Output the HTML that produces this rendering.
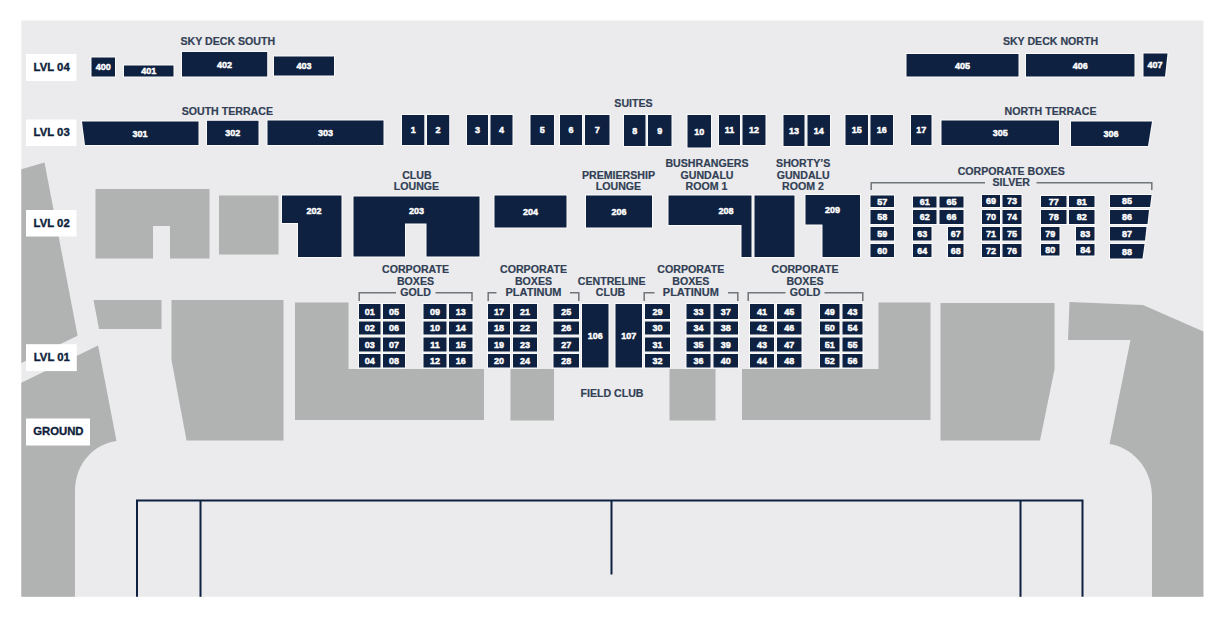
<!DOCTYPE html>
<html><head><meta charset="utf-8"><style>
html,body{margin:0;padding:0;background:#fff;}
svg{display:block;}
.nv{stroke:#fbfbfc;stroke-width:2px;paint-order:stroke;stroke-linejoin:miter;}
text{font-family:"Liberation Sans",sans-serif;font-weight:bold;}
.n{fill:#fff;text-anchor:middle;stroke:#fff;stroke-width:0.45px;}
.l{fill:#323f55;text-anchor:middle;stroke:#323f55;stroke-width:0.2px;}
.lv{fill:#0e1f3d;text-anchor:middle;font-size:11px;stroke:#0e1f3d;stroke-width:0.35px;}
</style></head><body>
<svg width="1224" height="623" viewBox="0 0 1224 623">
<rect x="0" y="0" width="1224" height="623" fill="#fff"/>
<rect x="21.3" y="20.5" width="1182.1" height="576.3" fill="#ebebed"/>
<polygon points="21.3,169.2 44.5,162.6 77.6,335.7 21.3,363" fill="#b1b2b2"/>
<path d="M21.3,382.7 L98.1,345.6 L116.5,441 C95,444 75,462 75,492 L75,596.8 L21.3,596.8 Z" fill="#b1b2b2"/>
<polygon points="95.5,189 209.5,189 209.5,258.5 170,258.5 170,226 153,226 153,258.5 95.5,258.5" fill="#b1b2b2"/>
<rect x="219" y="195.5" width="59.5" height="59.0" fill="#b1b2b2"/>
<polygon points="93.5,300 161.5,300 161.5,329 99,329" fill="#b1b2b2"/>
<polygon points="171.5,300 283.5,300 283.5,440.5 186.5,440.5 171.5,360" fill="#b1b2b2"/>
<polygon points="295,302.5 348.5,302.5 348.5,369 484,369 484,420 295,420" fill="#b1b2b2"/>
<rect x="510.5" y="369" width="43.5" height="51.5" fill="#b1b2b2"/>
<rect x="669.5" y="369" width="46.0" height="51.5" fill="#b1b2b2"/>
<polygon points="742,369 878.5,369 878.5,302.5 930.5,302.5 930.5,420 742,420" fill="#b1b2b2"/>
<polygon points="940.5,303 1054.5,303 1054.5,369.5 1040,440.5 940.5,440.5" fill="#b1b2b2"/>
<path d="M1069.5,302 L1143,305 L1203.4,331.5 L1203.4,596.8 L1152,596.8 L1152,496 C1152,466 1130,447 1109.5,444 L1130.5,340 L1068,340 Z" fill="#b1b2b2"/>
<g stroke="#0f2140" stroke-width="2" fill="none">
<path d="M137,596.8 L137,500.5 L1082.5,500.5 L1082.5,596.8"/>
<path d="M200.5,500.5 L200.5,596.8"/>
<path d="M1020.5,500.5 L1020.5,596.8"/>
<path d="M611.5,500.5 L611.5,574.5"/>
</g>
<rect x="26" y="54" width="50.5" height="27" fill="#fff"/>
<text transform="translate(51.65,70.8) scale(1.03,1)" class="lv">LVL 04</text>
<rect x="26" y="119.5" width="50.5" height="26.5" fill="#fff"/>
<text transform="translate(51.65,136.05) scale(1.03,1)" class="lv">LVL 03</text>
<rect x="26" y="210" width="50.5" height="26.5" fill="#fff"/>
<text transform="translate(51.65,226.55) scale(1.03,1)" class="lv">LVL 02</text>
<rect x="26" y="344.2" width="50.8" height="26.9" fill="#fff"/>
<text transform="translate(51.8,360.95) scale(1.03,1)" class="lv">LVL 01</text>
<rect x="26" y="418.5" width="64" height="27.0" fill="#fff"/>
<text transform="translate(58.4,435.3) scale(1.03,1)" class="lv">GROUND</text>
<rect x="91.5" y="57.5" width="23.5" height="19.0" fill="#0f2140" class="nv"/>
<text transform="translate(103.25,70.34) scale(0.93,1)" class="n" style="font-size:9.7px">400</text>
<rect x="124" y="65.5" width="49.5" height="11.0" fill="#0f2140" class="nv"/>
<text transform="translate(148.75,74.34) scale(0.93,1)" class="n" style="font-size:9.7px">401</text>
<rect x="182" y="52" width="85.2" height="24.5" fill="#0f2140" class="nv"/>
<text transform="translate(224.6,67.59) scale(0.93,1)" class="n" style="font-size:9.7px">402</text>
<rect x="274" y="56.5" width="60" height="19.0" fill="#0f2140" class="nv"/>
<text transform="translate(304.0,69.34) scale(0.93,1)" class="n" style="font-size:9.7px">403</text>
<rect x="906.5" y="54" width="112.0" height="22.5" fill="#0f2140" class="nv"/>
<text transform="translate(962.5,68.59) scale(0.93,1)" class="n" style="font-size:9.7px">405</text>
<rect x="1026" y="54" width="108.5" height="22.5" fill="#0f2140" class="nv"/>
<text transform="translate(1080.25,68.59) scale(0.93,1)" class="n" style="font-size:9.7px">406</text>
<polygon points="1143.5,53.5 1167.5,53.5 1165,76.5 1143.5,76.5" fill="#0f2140" class="nv"/>
<text transform="translate(1155,68.34) scale(0.93,1)" class="n" style="font-size:9.7px">407</text>
<polygon points="82,121.5 198.5,121.5 198.5,145 85,145" fill="#0f2140" class="nv"/>
<text transform="translate(140,136.54) scale(0.93,1)" class="n" style="font-size:9.7px">301</text>
<rect x="207" y="120.8" width="51.5" height="24.2" fill="#0f2140" class="nv"/>
<text transform="translate(232.75,136.24) scale(0.93,1)" class="n" style="font-size:9.7px">302</text>
<rect x="267.5" y="120.5" width="116.0" height="24.5" fill="#0f2140" class="nv"/>
<text transform="translate(325.5,136.09) scale(0.93,1)" class="n" style="font-size:9.7px">303</text>
<rect x="402" y="115" width="22.3" height="30" fill="#0f2140" class="nv"/>
<text transform="translate(413.15,133.34) scale(0.93,1)" class="n" style="font-size:9.7px">1</text>
<rect x="427" y="115" width="22.2" height="30" fill="#0f2140" class="nv"/>
<text transform="translate(438.1,133.34) scale(0.93,1)" class="n" style="font-size:9.7px">2</text>
<rect x="467" y="115" width="21" height="30" fill="#0f2140" class="nv"/>
<text transform="translate(477.5,133.34) scale(0.93,1)" class="n" style="font-size:9.7px">3</text>
<rect x="490.5" y="115" width="22.0" height="30" fill="#0f2140" class="nv"/>
<text transform="translate(501.5,133.34) scale(0.93,1)" class="n" style="font-size:9.7px">4</text>
<rect x="530.5" y="115" width="23.5" height="30" fill="#0f2140" class="nv"/>
<text transform="translate(542.25,133.34) scale(0.93,1)" class="n" style="font-size:9.7px">5</text>
<rect x="560" y="115" width="22" height="30" fill="#0f2140" class="nv"/>
<text transform="translate(571.0,133.34) scale(0.93,1)" class="n" style="font-size:9.7px">6</text>
<rect x="585" y="115" width="24.5" height="30" fill="#0f2140" class="nv"/>
<text transform="translate(597.25,133.34) scale(0.93,1)" class="n" style="font-size:9.7px">7</text>
<rect x="624" y="115" width="21.5" height="31" fill="#0f2140" class="nv"/>
<text transform="translate(634.75,133.84) scale(0.93,1)" class="n" style="font-size:9.7px">8</text>
<rect x="648" y="115" width="23.5" height="31" fill="#0f2140" class="nv"/>
<text transform="translate(659.75,133.84) scale(0.93,1)" class="n" style="font-size:9.7px">9</text>
<rect x="687.5" y="115" width="23.5" height="32.5" fill="#0f2140" class="nv"/>
<text transform="translate(699.25,134.59) scale(0.93,1)" class="n" style="font-size:9.7px">10</text>
<rect x="719" y="115" width="21" height="30" fill="#0f2140" class="nv"/>
<text transform="translate(729.5,133.34) scale(0.93,1)" class="n" style="font-size:9.7px">11</text>
<rect x="742.5" y="115" width="23.0" height="30" fill="#0f2140" class="nv"/>
<text transform="translate(754.0,133.34) scale(0.93,1)" class="n" style="font-size:9.7px">12</text>
<rect x="783.5" y="115" width="21.0" height="31" fill="#0f2140" class="nv"/>
<text transform="translate(794.0,133.84) scale(0.93,1)" class="n" style="font-size:9.7px">13</text>
<rect x="807.5" y="115" width="22.5" height="31" fill="#0f2140" class="nv"/>
<text transform="translate(818.75,133.84) scale(0.93,1)" class="n" style="font-size:9.7px">14</text>
<rect x="845.5" y="115" width="22.5" height="30" fill="#0f2140" class="nv"/>
<text transform="translate(856.75,133.34) scale(0.93,1)" class="n" style="font-size:9.7px">15</text>
<rect x="870.5" y="115" width="22.5" height="30" fill="#0f2140" class="nv"/>
<text transform="translate(881.75,133.34) scale(0.93,1)" class="n" style="font-size:9.7px">16</text>
<rect x="911" y="115" width="20.5" height="30" fill="#0f2140" class="nv"/>
<text transform="translate(921.25,133.34) scale(0.93,1)" class="n" style="font-size:9.7px">17</text>
<rect x="941.5" y="120.5" width="117.5" height="24.5" fill="#0f2140" class="nv"/>
<text transform="translate(1000.25,136.09) scale(0.93,1)" class="n" style="font-size:9.7px">305</text>
<polygon points="1071,121.5 1152,121.5 1148,146 1071,146" fill="#0f2140" class="nv"/>
<text transform="translate(1111,137.04) scale(0.93,1)" class="n" style="font-size:9.7px">306</text>
<polygon points="282,195.5 341.5,195.5 341.5,257 298,257 298,223 282,223" fill="#0f2140" class="nv"/>
<text transform="translate(314,214.34) scale(0.93,1)" class="n" style="font-size:9.7px">202</text>
<polygon points="353.5,196.5 479.5,196.5 479.5,256.5 426.5,256.5 426.5,223.5 405,223.5 405,256.5 353.5,256.5" fill="#0f2140" class="nv"/>
<text transform="translate(416.5,214.34) scale(0.93,1)" class="n" style="font-size:9.7px">203</text>
<rect x="494.5" y="195.5" width="72.0" height="32.0" fill="#0f2140" class="nv"/>
<text transform="translate(530.5,214.84) scale(0.93,1)" class="n" style="font-size:9.7px">204</text>
<rect x="586" y="195.5" width="66" height="32.0" fill="#0f2140" class="nv"/>
<text transform="translate(619.0,214.84) scale(0.93,1)" class="n" style="font-size:9.7px">206</text>
<polygon points="668.5,195.5 751.5,195.5 751.5,257 741.5,257 741.5,225 668.5,225" fill="#0f2140" class="nv"/>
<text transform="translate(726,214.34) scale(0.93,1)" class="n" style="font-size:9.7px">208</text>
<rect x="754.5" y="195.5" width="40.0" height="61.5" fill="#0f2140" class="nv"/>
<polygon points="805.5,195 860,195 860,257 822.5,257 822.5,224.5 805.5,224.5" fill="#0f2140" class="nv"/>
<text transform="translate(832.5,213.34) scale(0.93,1)" class="n" style="font-size:9.7px">209</text>
<rect x="870.5" y="195.5" width="23.5" height="11.5" fill="#0f2140" class="nv"/>
<text transform="translate(882.25,204.59) scale(0.93,1)" class="n" style="font-size:9.7px">57</text>
<rect x="870.5" y="210" width="23.5" height="14" fill="#0f2140" class="nv"/>
<text transform="translate(882.25,220.34) scale(0.93,1)" class="n" style="font-size:9.7px">58</text>
<rect x="870.5" y="227" width="23.5" height="13.5" fill="#0f2140" class="nv"/>
<text transform="translate(882.25,237.09) scale(0.93,1)" class="n" style="font-size:9.7px">59</text>
<rect x="870.5" y="244" width="23.5" height="13" fill="#0f2140" class="nv"/>
<text transform="translate(882.25,253.84) scale(0.93,1)" class="n" style="font-size:9.7px">60</text>
<rect x="913" y="196.5" width="23.5" height="11.0" fill="#0f2140" class="nv"/>
<text transform="translate(924.75,205.34) scale(0.93,1)" class="n" style="font-size:9.7px">61</text>
<rect x="939.5" y="196.5" width="24.0" height="11.0" fill="#0f2140" class="nv"/>
<text transform="translate(951.5,205.34) scale(0.93,1)" class="n" style="font-size:9.7px">65</text>
<rect x="913" y="210" width="23.5" height="14" fill="#0f2140" class="nv"/>
<text transform="translate(924.75,220.34) scale(0.93,1)" class="n" style="font-size:9.7px">62</text>
<rect x="939.5" y="210" width="24.0" height="14" fill="#0f2140" class="nv"/>
<text transform="translate(951.5,220.34) scale(0.93,1)" class="n" style="font-size:9.7px">66</text>
<rect x="913" y="227" width="18.5" height="13.5" fill="#0f2140" class="nv"/>
<text transform="translate(922.25,237.09) scale(0.93,1)" class="n" style="font-size:9.7px">63</text>
<rect x="948" y="227" width="15.5" height="13.5" fill="#0f2140" class="nv"/>
<text transform="translate(955.75,237.09) scale(0.93,1)" class="n" style="font-size:9.7px">67</text>
<rect x="913" y="244" width="18.5" height="13" fill="#0f2140" class="nv"/>
<text transform="translate(922.25,253.84) scale(0.93,1)" class="n" style="font-size:9.7px">64</text>
<rect x="948" y="244" width="15.5" height="13" fill="#0f2140" class="nv"/>
<text transform="translate(955.75,253.84) scale(0.93,1)" class="n" style="font-size:9.7px">68</text>
<rect x="982" y="195" width="18" height="12" fill="#0f2140" class="nv"/>
<text transform="translate(991.0,204.34) scale(0.93,1)" class="n" style="font-size:9.7px">69</text>
<rect x="1002.5" y="195" width="19.0" height="12" fill="#0f2140" class="nv"/>
<text transform="translate(1012.0,204.34) scale(0.93,1)" class="n" style="font-size:9.7px">73</text>
<rect x="982" y="210" width="18" height="14" fill="#0f2140" class="nv"/>
<text transform="translate(991.0,220.34) scale(0.93,1)" class="n" style="font-size:9.7px">70</text>
<rect x="1002.5" y="210" width="19.0" height="14" fill="#0f2140" class="nv"/>
<text transform="translate(1012.0,220.34) scale(0.93,1)" class="n" style="font-size:9.7px">74</text>
<rect x="982" y="227" width="18" height="13.5" fill="#0f2140" class="nv"/>
<text transform="translate(991.0,237.09) scale(0.93,1)" class="n" style="font-size:9.7px">71</text>
<rect x="1002.5" y="227" width="19.0" height="13.5" fill="#0f2140" class="nv"/>
<text transform="translate(1012.0,237.09) scale(0.93,1)" class="n" style="font-size:9.7px">75</text>
<rect x="982" y="244" width="18" height="13" fill="#0f2140" class="nv"/>
<text transform="translate(991.0,253.84) scale(0.93,1)" class="n" style="font-size:9.7px">72</text>
<rect x="1002.5" y="244" width="19.0" height="13" fill="#0f2140" class="nv"/>
<text transform="translate(1012.0,253.84) scale(0.93,1)" class="n" style="font-size:9.7px">76</text>
<rect x="1041" y="196" width="25.5" height="11" fill="#0f2140" class="nv"/>
<text transform="translate(1053.75,204.84) scale(0.93,1)" class="n" style="font-size:9.7px">77</text>
<rect x="1069" y="196" width="25.5" height="11" fill="#0f2140" class="nv"/>
<text transform="translate(1081.75,204.84) scale(0.93,1)" class="n" style="font-size:9.7px">81</text>
<rect x="1041" y="210" width="25.5" height="14" fill="#0f2140" class="nv"/>
<text transform="translate(1053.75,220.34) scale(0.93,1)" class="n" style="font-size:9.7px">78</text>
<rect x="1069" y="210" width="25.5" height="14" fill="#0f2140" class="nv"/>
<text transform="translate(1081.75,220.34) scale(0.93,1)" class="n" style="font-size:9.7px">82</text>
<rect x="1041" y="227" width="18.5" height="13.5" fill="#0f2140" class="nv"/>
<text transform="translate(1050.25,237.09) scale(0.93,1)" class="n" style="font-size:9.7px">79</text>
<rect x="1076" y="227" width="18.5" height="13.5" fill="#0f2140" class="nv"/>
<text transform="translate(1085.25,237.09) scale(0.93,1)" class="n" style="font-size:9.7px">83</text>
<rect x="1041" y="244" width="18.5" height="11.5" fill="#0f2140" class="nv"/>
<text transform="translate(1050.25,253.09) scale(0.93,1)" class="n" style="font-size:9.7px">80</text>
<rect x="1076" y="244" width="18.5" height="11.5" fill="#0f2140" class="nv"/>
<text transform="translate(1085.25,253.09) scale(0.93,1)" class="n" style="font-size:9.7px">84</text>
<polygon points="1110,195 1151.5,195 1150,207 1110,207" fill="#0f2140" class="nv"/>
<text transform="translate(1127,204.34) scale(0.93,1)" class="n" style="font-size:9.7px">85</text>
<polygon points="1110,210 1149,210 1147.5,224 1110,224" fill="#0f2140" class="nv"/>
<text transform="translate(1127,220.34) scale(0.93,1)" class="n" style="font-size:9.7px">86</text>
<polygon points="1110,227 1146.5,227 1145,240.5 1110,240.5" fill="#0f2140" class="nv"/>
<text transform="translate(1127,237.09) scale(0.93,1)" class="n" style="font-size:9.7px">87</text>
<polygon points="1110,244 1144.5,244 1142.5,258.5 1110,258.5" fill="#0f2140" class="nv"/>
<text transform="translate(1127,254.59) scale(0.93,1)" class="n" style="font-size:9.7px">88</text>
<rect x="359" y="304" width="21.5" height="15" fill="#0f2140" class="nv"/>
<text transform="translate(369.75,314.84) scale(0.93,1)" class="n" style="font-size:9.7px">01</text>
<rect x="359" y="321.5" width="21.5" height="13.0" fill="#0f2140" class="nv"/>
<text transform="translate(369.75,331.34) scale(0.93,1)" class="n" style="font-size:9.7px">02</text>
<rect x="359" y="337.5" width="21.5" height="14.0" fill="#0f2140" class="nv"/>
<text transform="translate(369.75,347.84) scale(0.93,1)" class="n" style="font-size:9.7px">03</text>
<rect x="359" y="354" width="21.5" height="13.5" fill="#0f2140" class="nv"/>
<text transform="translate(369.75,364.09) scale(0.93,1)" class="n" style="font-size:9.7px">04</text>
<rect x="383" y="304" width="22" height="15" fill="#0f2140" class="nv"/>
<text transform="translate(394.0,314.84) scale(0.93,1)" class="n" style="font-size:9.7px">05</text>
<rect x="383" y="321.5" width="22" height="13.0" fill="#0f2140" class="nv"/>
<text transform="translate(394.0,331.34) scale(0.93,1)" class="n" style="font-size:9.7px">06</text>
<rect x="383" y="337.5" width="22" height="14.0" fill="#0f2140" class="nv"/>
<text transform="translate(394.0,347.84) scale(0.93,1)" class="n" style="font-size:9.7px">07</text>
<rect x="383" y="354" width="22" height="13.5" fill="#0f2140" class="nv"/>
<text transform="translate(394.0,364.09) scale(0.93,1)" class="n" style="font-size:9.7px">08</text>
<rect x="423.5" y="304" width="23.0" height="15" fill="#0f2140" class="nv"/>
<text transform="translate(435.0,314.84) scale(0.93,1)" class="n" style="font-size:9.7px">09</text>
<rect x="423.5" y="321.5" width="23.0" height="13.0" fill="#0f2140" class="nv"/>
<text transform="translate(435.0,331.34) scale(0.93,1)" class="n" style="font-size:9.7px">10</text>
<rect x="423.5" y="337.5" width="23.0" height="14.0" fill="#0f2140" class="nv"/>
<text transform="translate(435.0,347.84) scale(0.93,1)" class="n" style="font-size:9.7px">11</text>
<rect x="423.5" y="354" width="23.0" height="13.5" fill="#0f2140" class="nv"/>
<text transform="translate(435.0,364.09) scale(0.93,1)" class="n" style="font-size:9.7px">12</text>
<rect x="449" y="304" width="23.5" height="15" fill="#0f2140" class="nv"/>
<text transform="translate(460.75,314.84) scale(0.93,1)" class="n" style="font-size:9.7px">13</text>
<rect x="449" y="321.5" width="23.5" height="13.0" fill="#0f2140" class="nv"/>
<text transform="translate(460.75,331.34) scale(0.93,1)" class="n" style="font-size:9.7px">14</text>
<rect x="449" y="337.5" width="23.5" height="14.0" fill="#0f2140" class="nv"/>
<text transform="translate(460.75,347.84) scale(0.93,1)" class="n" style="font-size:9.7px">15</text>
<rect x="449" y="354" width="23.5" height="13.5" fill="#0f2140" class="nv"/>
<text transform="translate(460.75,364.09) scale(0.93,1)" class="n" style="font-size:9.7px">16</text>
<rect x="488" y="304" width="22" height="15" fill="#0f2140" class="nv"/>
<text transform="translate(499.0,314.84) scale(0.93,1)" class="n" style="font-size:9.7px">17</text>
<rect x="488" y="321.5" width="22" height="13.0" fill="#0f2140" class="nv"/>
<text transform="translate(499.0,331.34) scale(0.93,1)" class="n" style="font-size:9.7px">18</text>
<rect x="488" y="337.5" width="22" height="14.0" fill="#0f2140" class="nv"/>
<text transform="translate(499.0,347.84) scale(0.93,1)" class="n" style="font-size:9.7px">19</text>
<rect x="488" y="354" width="22" height="13.5" fill="#0f2140" class="nv"/>
<text transform="translate(499.0,364.09) scale(0.93,1)" class="n" style="font-size:9.7px">20</text>
<rect x="513" y="304" width="24" height="15" fill="#0f2140" class="nv"/>
<text transform="translate(525.0,314.84) scale(0.93,1)" class="n" style="font-size:9.7px">21</text>
<rect x="513" y="321.5" width="24" height="13.0" fill="#0f2140" class="nv"/>
<text transform="translate(525.0,331.34) scale(0.93,1)" class="n" style="font-size:9.7px">22</text>
<rect x="513" y="337.5" width="24" height="14.0" fill="#0f2140" class="nv"/>
<text transform="translate(525.0,347.84) scale(0.93,1)" class="n" style="font-size:9.7px">23</text>
<rect x="513" y="354" width="24" height="13.5" fill="#0f2140" class="nv"/>
<text transform="translate(525.0,364.09) scale(0.93,1)" class="n" style="font-size:9.7px">24</text>
<rect x="553.5" y="304" width="25.5" height="15" fill="#0f2140" class="nv"/>
<text transform="translate(566.25,314.84) scale(0.93,1)" class="n" style="font-size:9.7px">25</text>
<rect x="553.5" y="321.5" width="25.5" height="13.0" fill="#0f2140" class="nv"/>
<text transform="translate(566.25,331.34) scale(0.93,1)" class="n" style="font-size:9.7px">26</text>
<rect x="553.5" y="337.5" width="25.5" height="14.0" fill="#0f2140" class="nv"/>
<text transform="translate(566.25,347.84) scale(0.93,1)" class="n" style="font-size:9.7px">27</text>
<rect x="553.5" y="354" width="25.5" height="13.5" fill="#0f2140" class="nv"/>
<text transform="translate(566.25,364.09) scale(0.93,1)" class="n" style="font-size:9.7px">28</text>
<rect x="645" y="304" width="25" height="15" fill="#0f2140" class="nv"/>
<text transform="translate(657.5,314.84) scale(0.93,1)" class="n" style="font-size:9.7px">29</text>
<rect x="645" y="321.5" width="25" height="13.0" fill="#0f2140" class="nv"/>
<text transform="translate(657.5,331.34) scale(0.93,1)" class="n" style="font-size:9.7px">30</text>
<rect x="645" y="337.5" width="25" height="14.0" fill="#0f2140" class="nv"/>
<text transform="translate(657.5,347.84) scale(0.93,1)" class="n" style="font-size:9.7px">31</text>
<rect x="645" y="354" width="25" height="13.5" fill="#0f2140" class="nv"/>
<text transform="translate(657.5,364.09) scale(0.93,1)" class="n" style="font-size:9.7px">32</text>
<rect x="686.5" y="304" width="24.0" height="15" fill="#0f2140" class="nv"/>
<text transform="translate(698.5,314.84) scale(0.93,1)" class="n" style="font-size:9.7px">33</text>
<rect x="686.5" y="321.5" width="24.0" height="13.0" fill="#0f2140" class="nv"/>
<text transform="translate(698.5,331.34) scale(0.93,1)" class="n" style="font-size:9.7px">34</text>
<rect x="686.5" y="337.5" width="24.0" height="14.0" fill="#0f2140" class="nv"/>
<text transform="translate(698.5,347.84) scale(0.93,1)" class="n" style="font-size:9.7px">35</text>
<rect x="686.5" y="354" width="24.0" height="13.5" fill="#0f2140" class="nv"/>
<text transform="translate(698.5,364.09) scale(0.93,1)" class="n" style="font-size:9.7px">36</text>
<rect x="713.5" y="304" width="24.5" height="15" fill="#0f2140" class="nv"/>
<text transform="translate(725.75,314.84) scale(0.93,1)" class="n" style="font-size:9.7px">37</text>
<rect x="713.5" y="321.5" width="24.5" height="13.0" fill="#0f2140" class="nv"/>
<text transform="translate(725.75,331.34) scale(0.93,1)" class="n" style="font-size:9.7px">38</text>
<rect x="713.5" y="337.5" width="24.5" height="14.0" fill="#0f2140" class="nv"/>
<text transform="translate(725.75,347.84) scale(0.93,1)" class="n" style="font-size:9.7px">39</text>
<rect x="713.5" y="354" width="24.5" height="13.5" fill="#0f2140" class="nv"/>
<text transform="translate(725.75,364.09) scale(0.93,1)" class="n" style="font-size:9.7px">40</text>
<rect x="750" y="304" width="24" height="15" fill="#0f2140" class="nv"/>
<text transform="translate(762.0,314.84) scale(0.93,1)" class="n" style="font-size:9.7px">41</text>
<rect x="750" y="321.5" width="24" height="13.0" fill="#0f2140" class="nv"/>
<text transform="translate(762.0,331.34) scale(0.93,1)" class="n" style="font-size:9.7px">42</text>
<rect x="750" y="337.5" width="24" height="14.0" fill="#0f2140" class="nv"/>
<text transform="translate(762.0,347.84) scale(0.93,1)" class="n" style="font-size:9.7px">43</text>
<rect x="750" y="354" width="24" height="13.5" fill="#0f2140" class="nv"/>
<text transform="translate(762.0,364.09) scale(0.93,1)" class="n" style="font-size:9.7px">44</text>
<rect x="777" y="304" width="24.5" height="15" fill="#0f2140" class="nv"/>
<text transform="translate(789.25,314.84) scale(0.93,1)" class="n" style="font-size:9.7px">45</text>
<rect x="777" y="321.5" width="24.5" height="13.0" fill="#0f2140" class="nv"/>
<text transform="translate(789.25,331.34) scale(0.93,1)" class="n" style="font-size:9.7px">46</text>
<rect x="777" y="337.5" width="24.5" height="14.0" fill="#0f2140" class="nv"/>
<text transform="translate(789.25,347.84) scale(0.93,1)" class="n" style="font-size:9.7px">47</text>
<rect x="777" y="354" width="24.5" height="13.5" fill="#0f2140" class="nv"/>
<text transform="translate(789.25,364.09) scale(0.93,1)" class="n" style="font-size:9.7px">48</text>
<rect x="820" y="304" width="19.5" height="15" fill="#0f2140" class="nv"/>
<text transform="translate(829.75,314.84) scale(0.93,1)" class="n" style="font-size:9.7px">49</text>
<rect x="820" y="321.5" width="19.5" height="13.0" fill="#0f2140" class="nv"/>
<text transform="translate(829.75,331.34) scale(0.93,1)" class="n" style="font-size:9.7px">50</text>
<rect x="820" y="337.5" width="19.5" height="14.0" fill="#0f2140" class="nv"/>
<text transform="translate(829.75,347.84) scale(0.93,1)" class="n" style="font-size:9.7px">51</text>
<rect x="820" y="354" width="19.5" height="13.5" fill="#0f2140" class="nv"/>
<text transform="translate(829.75,364.09) scale(0.93,1)" class="n" style="font-size:9.7px">52</text>
<rect x="842.5" y="304" width="20.0" height="15" fill="#0f2140" class="nv"/>
<text transform="translate(852.5,314.84) scale(0.93,1)" class="n" style="font-size:9.7px">43</text>
<rect x="842.5" y="321.5" width="20.0" height="13.0" fill="#0f2140" class="nv"/>
<text transform="translate(852.5,331.34) scale(0.93,1)" class="n" style="font-size:9.7px">54</text>
<rect x="842.5" y="337.5" width="20.0" height="14.0" fill="#0f2140" class="nv"/>
<text transform="translate(852.5,347.84) scale(0.93,1)" class="n" style="font-size:9.7px">55</text>
<rect x="842.5" y="354" width="20.0" height="13.5" fill="#0f2140" class="nv"/>
<text transform="translate(852.5,364.09) scale(0.93,1)" class="n" style="font-size:9.7px">56</text>
<rect x="582" y="304" width="26.5" height="63.5" fill="#0f2140" class="nv"/>
<text transform="translate(595.25,339.09) scale(0.93,1)" class="n" style="font-size:9.7px">106</text>
<rect x="615.5" y="304" width="26.5" height="63.5" fill="#0f2140" class="nv"/>
<text transform="translate(628.75,339.09) scale(0.93,1)" class="n" style="font-size:9.7px">107</text>
<text transform="translate(227.8,45.1) scale(0.965,1)" class="l" style="font-size:11px">SKY DECK SOUTH</text>
<text transform="translate(227.3,115) scale(0.965,1)" class="l" style="font-size:11px">SOUTH TERRACE</text>
<text transform="translate(633.5,106.5) scale(0.965,1)" class="l" style="font-size:11px">SUITES</text>
<text transform="translate(1050.5,45.1) scale(0.965,1)" class="l" style="font-size:11px">SKY DECK NORTH</text>
<text transform="translate(1050.5,115) scale(0.965,1)" class="l" style="font-size:11px">NORTH TERRACE</text>
<text transform="translate(416.9,178.5) scale(0.965,1)" class="l" style="font-size:11px">CLUB</text>
<text transform="translate(416.5,189.5) scale(0.965,1)" class="l" style="font-size:11px">LOUNGE</text>
<text transform="translate(618.5,178.5) scale(0.965,1)" class="l" style="font-size:11px">PREMIERSHIP</text>
<text transform="translate(618.5,189.5) scale(0.965,1)" class="l" style="font-size:11px">LOUNGE</text>
<text transform="translate(707,167) scale(0.965,1)" class="l" style="font-size:11px">BUSHRANGERS</text>
<text transform="translate(707,178.5) scale(0.965,1)" class="l" style="font-size:11px">GUNDALU</text>
<text transform="translate(706.5,189.5) scale(0.965,1)" class="l" style="font-size:11px">ROOM 1</text>
<text transform="translate(803.2,167) scale(0.965,1)" class="l" style="font-size:11px">SHORTY’S</text>
<text transform="translate(803.2,178.5) scale(0.965,1)" class="l" style="font-size:11px">GUNDALU</text>
<text transform="translate(803,189.5) scale(0.965,1)" class="l" style="font-size:11px">ROOM 2</text>
<text transform="translate(1011.2,174.5) scale(0.965,1)" class="l" style="font-size:11px">CORPORATE BOXES</text>
<text transform="translate(1011.2,186) scale(0.965,1)" class="l" style="font-size:11px">SILVER</text>
<text transform="translate(415.5,273) scale(0.965,1)" class="l" style="font-size:11px">CORPORATE</text>
<text transform="translate(415.5,284.5) scale(0.965,1)" class="l" style="font-size:11px">BOXES</text>
<text transform="translate(415.5,295.5) scale(0.965,1)" class="l" style="font-size:11px">GOLD</text>
<text transform="translate(533.5,273) scale(0.965,1)" class="l" style="font-size:11px">CORPORATE</text>
<text transform="translate(533.5,284.5) scale(0.965,1)" class="l" style="font-size:11px">BOXES</text>
<text transform="translate(533.5,295.5) scale(1.0,1)" class="l" style="font-size:11px">PLATINUM</text>
<text transform="translate(690.8,273) scale(0.965,1)" class="l" style="font-size:11px">CORPORATE</text>
<text transform="translate(690.8,284.5) scale(0.965,1)" class="l" style="font-size:11px">BOXES</text>
<text transform="translate(690.8,295.5) scale(1.0,1)" class="l" style="font-size:11px">PLATINUM</text>
<text transform="translate(805,273) scale(0.965,1)" class="l" style="font-size:11px">CORPORATE</text>
<text transform="translate(805,284.5) scale(0.965,1)" class="l" style="font-size:11px">BOXES</text>
<text transform="translate(805,295.5) scale(0.965,1)" class="l" style="font-size:11px">GOLD</text>
<text transform="translate(611.7,284.5) scale(0.965,1)" class="l" style="font-size:11px">CENTRELINE</text>
<text transform="translate(610.5,295.5) scale(0.965,1)" class="l" style="font-size:11px">CLUB</text>
<text transform="translate(612,397) scale(0.965,1)" class="l" style="font-size:11px">FIELD CLUB</text>
<g stroke="#70757a" stroke-width="1.5" fill="none">
<path d="M359.2,301 V292.7 H396"/><path d="M435.5,292.7 H472 V301"/>
<path d="M488.2,301 V292.7 H496.5"/><path d="M570,292.7 H578.8 V301"/>
<path d="M644.2,301 V292.7 H654.5"/><path d="M728,292.7 H737.8 V301"/>
<path d="M748.2,301 V292.7 H785.5"/><path d="M824.5,292.7 H862.8 V301"/>
<path d="M871.2,190 V182.7 H985"/><path d="M1036.5,182.7 H1151.8 V190"/>
</g>
</svg>
</body></html>
